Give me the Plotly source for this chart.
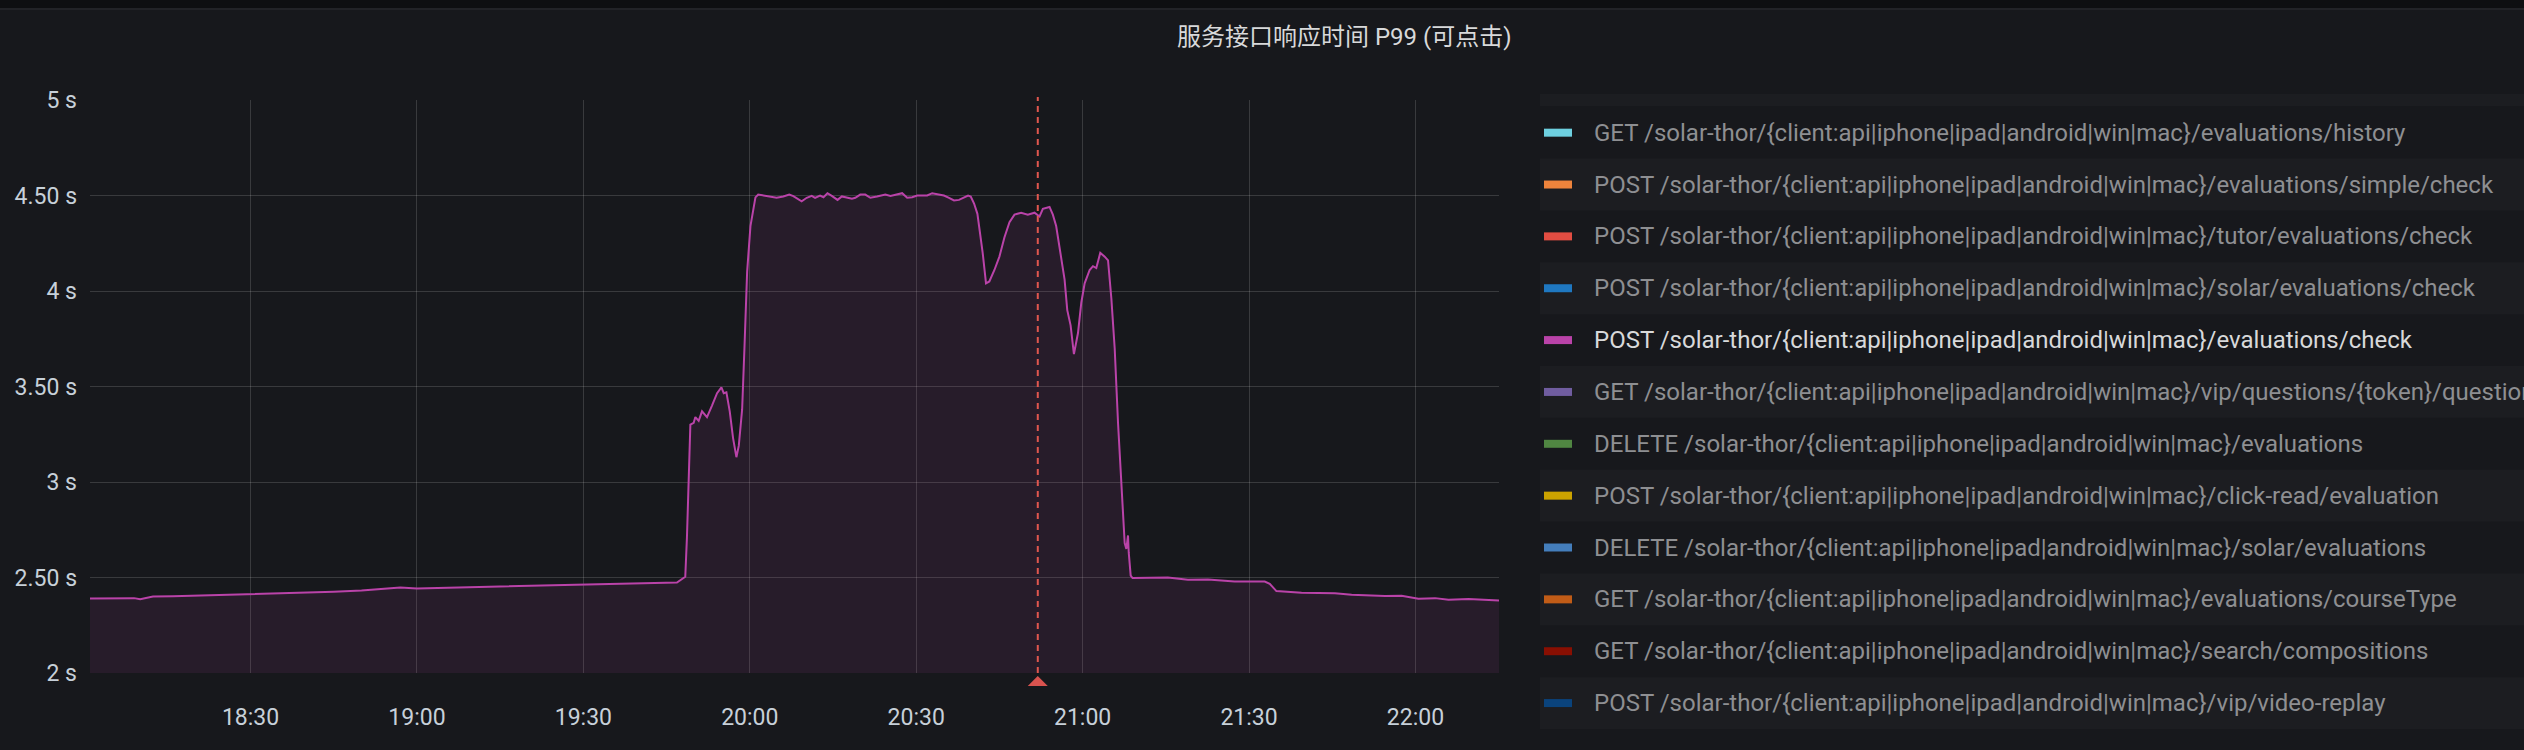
import pandas as pd
import plotly.graph_objects as go

DAY = "2021-06-01 "

# ---- series: POST .../evaluations/check  P99 latency (seconds) ----
times = [
    "18:01:03", "18:05:00", "18:09:00", "18:10:06", "18:12:24", "18:16:00", "18:20:00", "18:25:00",
    "18:30:00", "18:35:00", "18:40:00", "18:45:00", "18:50:00", "18:55:00", "18:57:00", "19:00:00",
    "19:05:00", "19:10:00", "19:15:00", "19:20:00", "19:25:00", "19:30:00", "19:35:00", "19:40:14",
    "19:46:52", "19:48:22", "19:48:40", "19:49:17", "19:49:53", "19:50:11", "19:50:47", "19:51:23",
    "19:52:17", "19:53:11", "19:54:06", "19:54:53", "19:55:18", "19:55:47", "19:56:23", "19:56:59",
    "19:57:35", "19:58:01", "19:58:37", "19:59:02", "19:59:31", "20:00:07", "20:01:01",
    "20:01:31", "20:02:25", "20:03:37", "20:04:50", "20:06:02", "20:07:07", "20:07:51", "20:08:45",
    "20:09:21", "20:10:16", "20:11:10", "20:11:46", "20:12:40", "20:13:17", "20:14:00", "20:14:47",
    "20:15:49", "20:16:36", "20:17:30", "20:18:25", "20:19:01", "20:19:55", "20:20:49", "20:21:44",
    "20:22:56", "20:23:32", "20:24:26", "20:25:21", "20:26:15", "20:27:28", "20:28:22", "20:29:16",
    "20:30:11", "20:31:59", "20:32:53", "20:34:06", "20:35:00", "20:35:55", "20:36:49", "20:37:43",
    "20:38:37", "20:39:21", "20:39:50", "20:40:26", "20:41:02",
    "20:41:59", "20:42:35", "20:43:11", "20:44:06",
    "20:45:00", "20:45:54", "20:46:49", "20:47:43", "20:48:55", "20:50:07", "20:51:20", "20:52:14",
    "20:52:50", "20:54:02", "20:54:38", "20:55:14", "20:56:08", "20:56:45", "20:57:14", "20:57:50",
    "20:58:26", "20:59:10", "20:59:46", "21:00:22", "21:01:16", "21:01:52", "21:02:28", "21:03:11",
    "21:03:59", "21:04:35", "21:05:11", "21:05:47", "21:06:23", "21:06:59", "21:07:35", "21:07:53",
    "21:08:11", "21:08:19", "21:08:40", "21:09:00", "21:12:00", "21:15:22", "21:18:59", "21:22:36",
    "21:25:00", "21:27:24", "21:32:50", "21:33:44", "21:34:56", "21:39:28", "21:45:29", "21:48:30",
    "21:54:31", "21:57:30", "22:00:32", "22:03:33", "22:05:58", "22:09:35", "22:15:04",
]
p99_seconds = [
    2.390, 2.392, 2.392, 2.386, 2.400, 2.402, 2.405, 2.408,
    2.412, 2.415, 2.420, 2.425, 2.432, 2.440, 2.447, 2.443,
    2.446, 2.450, 2.452, 2.455, 2.458, 2.460, 2.465, 2.470,
    2.474, 2.504, 2.710, 3.300, 3.310, 3.340, 3.320, 3.370,
    3.340, 3.400, 3.465, 3.495, 3.465, 3.470, 3.370, 3.230,
    3.130, 3.190, 3.380, 3.700, 4.100, 4.340, 4.490,
    4.505, 4.500, 4.497, 4.488, 4.495, 4.505, 4.497, 4.483,
    4.470, 4.488, 4.498, 4.488, 4.500, 4.491, 4.512, 4.498,
    4.477, 4.495, 4.488, 4.483, 4.488, 4.505, 4.505, 4.488,
    4.495, 4.500, 4.505, 4.498, 4.505, 4.512, 4.488, 4.491,
    4.500, 4.500, 4.512, 4.505, 4.500, 4.488, 4.474, 4.477,
    4.488, 4.500, 4.495, 4.458, 4.404,
    4.200, 4.040, 4.050, 4.110,
    4.180, 4.280, 4.360, 4.400, 4.410, 4.400, 4.410, 4.390,
    4.430, 4.440, 4.400, 4.340, 4.180, 4.060, 3.900, 3.820,
    3.670, 3.780, 3.940, 4.040, 4.110, 4.130, 4.120, 4.200,
    4.180, 4.160, 3.960, 3.700, 3.310, 3.010, 2.680, 2.650,
    2.720, 2.630, 2.510, 2.497, 2.498, 2.500, 2.488, 2.490,
    2.484, 2.479, 2.479, 2.467, 2.429, 2.420, 2.418, 2.410,
    2.403, 2.405, 2.389, 2.392, 2.384, 2.387, 2.380,
]

# ---- axes ----
x_start, x_end = "18:01:03", "22:15:04"
x_tick0 = "18:30"
y_ticks = [2, 2.5, 3, 3.5, 4, 4.5, 5]
y_tick_labels = ["2 s", "2.50 s", "3 s", "3.50 s", "4 s", "4.50 s", "5 s"]

# ---- annotation marker (dashed) ----
annotation_time = "20:51:55"

# ---- legend ----
legend_names = [
    "GET /solar-thor/{client:api|iphone|ipad|android|win|mac}/evaluations/history",
    "POST /solar-thor/{client:api|iphone|ipad|android|win|mac}/evaluations/simple/check",
    "POST /solar-thor/{client:api|iphone|ipad|android|win|mac}/tutor/evaluations/check",
    "POST /solar-thor/{client:api|iphone|ipad|android|win|mac}/solar/evaluations/check",
    "POST /solar-thor/{client:api|iphone|ipad|android|win|mac}/evaluations/check",
    "GET /solar-thor/{client:api|iphone|ipad|android|win|mac}/vip/questions/{token}/questions",
    "DELETE /solar-thor/{client:api|iphone|ipad|android|win|mac}/evaluations",
    "POST /solar-thor/{client:api|iphone|ipad|android|win|mac}/click-read/evaluation",
    "DELETE /solar-thor/{client:api|iphone|ipad|android|win|mac}/solar/evaluations",
    "GET /solar-thor/{client:api|iphone|ipad|android|win|mac}/evaluations/courseType",
    "GET /solar-thor/{client:api|iphone|ipad|android|win|mac}/search/compositions",
    "POST /solar-thor/{client:api|iphone|ipad|android|win|mac}/vip/video-replay",
]
legend_colors = [
    "#6ED0E0", "#EF843C", "#E24D42", "#1F78C1", "#BA43A9", "#705DA0",
    "#508642", "#CCA300", "#447EBC", "#C15C17", "#890F02", "#0A437C",
]
active_series = 4

TITLE = "服务接口响应时间 P99 (可点击)"

# ---------------- layout geometry ----------------
W, H = 2524, 750
PL, PR, PT, PB = 90, 1499, 100, 673.5


def px(x):
    return (x - PL) / (PR - PL)


def py(y):
    return (PB - y) / (PB - PT)


BG = "#17181c"
TXT = "#c7d0d9"
GRID = "rgba(255,255,255,0.15)"
FONT = "Roboto, 'Noto Sans CJK SC', sans-serif"

x_vals = pd.to_datetime([DAY + t for t in times])

fig = go.Figure()
fig.add_trace(go.Scatter(
    x=x_vals, y=p99_seconds, mode="lines",
    line=dict(color=legend_colors[active_series], width=2),
    fill="tozeroy", fillcolor="rgba(186,67,169,0.10)",
    name=legend_names[active_series], showlegend=False, hoverinfo="skip",
))

shapes = []
annotations = []

# top page strip
shapes.append(dict(type="rect", xref="paper", yref="paper", x0=px(0), x1=px(W), y0=py(0), y1=py(8),
                   fillcolor="#0e0f11", line_width=0, layer="below"))
shapes.append(dict(type="rect", xref="paper", yref="paper", x0=px(0), x1=px(W), y0=py(8), y1=py(10),
                   fillcolor="#222327", line_width=0, layer="below"))

# dashed annotation marker
ann_x = pd.Timestamp(DAY + annotation_time)
shapes.append(dict(type="line", xref="x", yref="paper", x0=ann_x, x1=ann_x, y0=0, y1=py(97),
                   line=dict(color="#e0574f", width=2, dash="6px,5px"), layer="above"))
shapes.append(dict(type="path", xref="x", yref="paper", xsizemode="pixel", ysizemode="pixel",
                   xanchor=ann_x, yanchor=0,
                   path="M -10 -13 L 10 -13 L 0 -3 Z",
                   fillcolor="#d9534f", line_width=0))

# legend
row0, row_h = 132.7, 51.9
band_x0, band_x1 = 1540, W
shapes.append(dict(type="rect", xref="paper", yref="paper", x0=px(band_x0), x1=px(band_x1),
                   y0=py(106), y1=py(94), fillcolor="#1c1d21", line_width=0, layer="below"))
for i, (name, col) in enumerate(zip(legend_names, legend_colors)):
    cy = row0 + i * row_h
    if i % 2 == 1:
        shapes.append(dict(type="rect", xref="paper", yref="paper", x0=px(band_x0), x1=px(band_x1),
                           y0=py(cy + row_h / 2), y1=py(cy - row_h / 2),
                           fillcolor="#1c1d21", line_width=0, layer="below"))
    shapes.append(dict(type="rect", xref="paper", yref="paper", x0=px(1544), x1=px(1572),
                       y0=py(cy + 4), y1=py(cy - 4), fillcolor=col, line_width=0))
    annotations.append(dict(xref="paper", yref="paper", x=px(1592), y=py(cy), text=name,
                            showarrow=False, xanchor="left", yanchor="middle",
                            font=dict(family=FONT, size=24,
                                      color="#d8d9da" if i == active_series else "#8e8f92")))

# title
annotations.append(dict(xref="paper", yref="paper", x=px(1344), y=py(36.7), text=TITLE,
                        showarrow=False, xanchor="center", yanchor="middle",
                        font=dict(family=FONT, size=24, color="#d8d9da")))

fig.update_layout(
    width=W, height=H,
    margin=dict(l=PL, r=W - PR, t=PT, b=H - PB, pad=0),
    paper_bgcolor=BG, plot_bgcolor="rgba(0,0,0,0)",
    showlegend=False,
    shapes=shapes, annotations=annotations,
    font=dict(family=FONT, color=TXT),
    xaxis=dict(
        type="date", range=[DAY + x_start, DAY + x_end],
        tick0=DAY + x_tick0, dtick=30 * 60 * 1000, tickformat="%H:%M",
        showgrid=True, gridcolor=GRID, gridwidth=1,
        zeroline=False, showline=False, ticks="",
        tickfont=dict(size=23, color=TXT), ticklabelstandoff=28,
    ),
    yaxis=dict(
        range=[2, 5], tickvals=y_ticks, ticktext=y_tick_labels,
        showgrid=True, gridcolor=GRID, gridwidth=1,
        zeroline=False, showline=False, ticks="",
        tickfont=dict(size=23, color=TXT), ticklabelstandoff=12,
    ),
)

fig.write_html(
    "out.html",
    config={"displayModeBar": False},
    post_script="document.body.style.margin='0';document.body.style.padding='0';"
                "document.body.style.background='#17181c';document.body.style.overflow='hidden';",
)
